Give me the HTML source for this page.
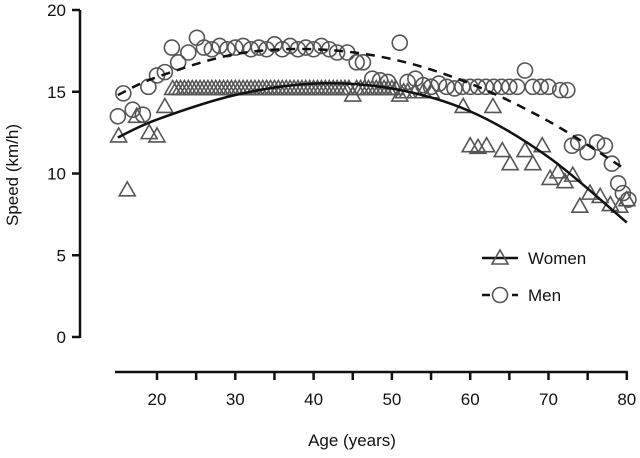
<!DOCTYPE html>
<html><head><meta charset="utf-8"><style>
html,body{margin:0;padding:0;background:#fff}
svg{display:block;font-family:"Liberation Sans",Arial,sans-serif}
</style></head><body>
<svg id="chart" width="640" height="458" viewBox="0 0 640 458">
<g id="axes"></g><g id="fits"></g><g id="marks"></g><g id="legend"></g>
</svg>
<script>
const yTicks=[0,5,10,15,20];
const xTicks=[20,30,40,50,60,70,80];
const womenAge=[15.1,16.2,17.4,19,20,21,45,51,59.1,62.9,60,61,62.1,64.1,65.1,67,68,69.2,70.2,71.2,72.1,73.1,74,75.3,76.6,77.9,79.1,80,
22,22.5,23,23.5,24,24.5,25,25.5,26,26.5,27,27.5,28,28.5,29,29.5,30,30.5,31,31.5,32,32.5,33,33.5,34,34.5,35,35.5,36,36.5,37,37.5,38,38.5,39,39.5,40,40.5,41,41.5,42,42.5,43,43.5,44,44.5,45.5,46,46.5,47,47.5,48,48.5,49,49.5,50,50.5,51.5,52,53,54,55,56];
const womenSpeed=[12.3,9.0,13.5,12.5,12.3,14.1,14.8,14.8,14.1,14.1,11.7,11.6,11.7,11.4,10.6,11.4,10.6,11.7,9.7,10.1,9.5,9.9,8.0,8.8,8.6,8.1,8.0,8.4,
15.2,15.2,15.2,15.2,15.2,15.2,15.2,15.2,15.2,15.2,15.2,15.2,15.2,15.2,15.2,15.2,15.2,15.2,15.2,15.2,15.2,15.2,15.2,15.2,15.2,15.2,15.2,15.2,15.2,15.2,15.2,15.2,15.2,15.2,15.2,15.2,15.2,15.2,15.2,15.2,15.2,15.2,15.2,15.2,15.2,15.2,15.2,15.2,15.2,15.2,15.2,15.2,15.2,15.2,15.2,15.2,15.2,15.0,15.0,15.0,15.0,15.0];
const menAge=[15,15.7,16.9,18.2,18.9,20,21,21.9,22.7,24,25.1,26,27,28,29,30,31,32,33,34,35,36,37,38,39,40,41,42,43,44.3,45.5,46.3,47.5,48.5,49.5,51,52,53,54,55,56,57,58,59,60,61,62,63,64,65,66,67,68,69,70,71.5,72.4,73,73.8,75,76.2,77.2,78.1,78.9,79.5,80.2];
const menSpeed=[13.5,14.9,13.9,13.6,15.3,16.0,16.2,17.7,16.8,17.4,18.3,17.7,17.6,17.8,17.6,17.7,17.8,17.6,17.7,17.6,17.9,17.6,17.8,17.6,17.7,17.6,17.8,17.6,17.4,17.4,16.8,16.8,15.8,15.7,15.6,18.0,15.6,15.8,15.4,15.3,15.5,15.3,15.2,15.3,15.3,15.3,15.3,15.3,15.3,15.3,15.3,16.3,15.3,15.3,15.3,15.1,15.1,11.7,11.9,11.3,11.9,11.7,10.6,9.4,8.8,8.4];
const fitAges=[15,20,30,40,50,60,70,80];
const womenFit=[12.2,13.3,14.8,15.5,15.2,13.8,11.0,7.0];
const menFit=[14.8,15.9,17.3,17.6,17.0,15.5,13.2,10.2];

const NS="http://www.w3.org/2000/svg";
const X=a=>157+(a-20)*7.83;
const Y=v=>337-v*16.35;
function el(tag,attrs,parent){const e=document.createElementNS(NS,tag);for(const k in attrs)e.setAttribute(k,attrs[k]);parent.appendChild(e);return e;}
const axes=document.getElementById('axes');
let a=el('line',{x1:80,y1:Y(20),x2:80,y2:Y(0)+1,stroke:'#111','stroke-width':2.5},axes);


yTicks.forEach(t=>{
 let l=el('line',{x1:72,y1:Y(t),x2:80,y2:Y(t),stroke:'#111','stroke-width':2.5},axes);
 
 
 let tx=el('text',{x:66,y:Y(t)+6,'text-anchor':'end','font-size':17,fill:'#111'},axes);tx.textContent=t;
 
 
});
a=el('line',{x1:115,y1:372,x2:X(80)+1,y2:372,stroke:'#111','stroke-width':2.5},axes);


for(let t=20;t<=80;t+=5){
 let l=el('line',{x1:X(t),y1:372,x2:X(t),y2:380,stroke:'#111','stroke-width':2.5},axes);
 
 
}
xTicks.forEach(t=>{
 let tx=el('text',{x:X(t),y:405,'text-anchor':'middle','font-size':17,fill:'#111'},axes);tx.textContent=t;
 
 
});
let tt=el('text',{x:352,y:446,'text-anchor':'middle','font-size':17,fill:'#111'},axes);tt.textContent='Age (years)';


tt=el('text',{x:0,y:0,'text-anchor':'middle','font-size':17,fill:'#111',transform:'translate(18,175) rotate(-90)'},axes);tt.textContent='Speed (km/h)';



function curve(vals){
 const p=fitAges.map((g,i)=>[X(g),Y(vals[i])]);
 let d='M'+p[0][0]+','+p[0][1];
 for(let i=0;i<p.length-1;i++){
  const p0=p[Math.max(0,i-1)],p1=p[i],p2=p[i+1],p3=p[Math.min(p.length-1,i+2)];
  d+=' C'+(p1[0]+(p2[0]-p0[0])/6)+','+(p1[1]+(p2[1]-p0[1])/6)+' '+(p2[0]-(p3[0]-p1[0])/6)+','+(p2[1]-(p3[1]-p1[1])/6)+' '+p2[0]+','+p2[1];
 }
 return d;
}
const marks=document.getElementById('marks');
function tri(cx,cy,parent){return el('polygon',{points:`${cx},${cy-8} ${cx-8},${cy+6} ${cx+8},${cy+6}`,fill:'none',stroke:'#555','stroke-width':1.6},parent);}
menAge.forEach((g,i)=>{
 let c=el('circle',{cx:X(g),cy:Y(menSpeed[i]),r:7.5,fill:'none',stroke:'#555','stroke-width':1.6},marks);
 
 
});
womenAge.forEach((g,i)=>{
 let t=tri(X(g),Y(womenSpeed[i]),marks);
 
 
});
let f=el('path',{d:curve(menFit),fill:'none',stroke:'#111','stroke-width':2.5,'stroke-dasharray':'9,7'},marks);


f=el('path',{d:curve(womenFit),fill:'none',stroke:'#111','stroke-width':2.5},marks);



const lg=document.getElementById('legend');
let g1=el('g',{},lg);


el('line',{x1:482,y1:258,x2:518,y2:258,stroke:'#111','stroke-width':2.5},g1);
tri(500,258,g1);
let lt=el('text',{x:528,y:264,'font-size':17,fill:'#111'},g1);lt.textContent='Women';
let g2=el('g',{},lg);


el('line',{x1:482,y1:295,x2:518,y2:295,stroke:'#111','stroke-width':2.5,'stroke-dasharray':'8,7'},g2);
el('circle',{cx:500,cy:295,r:7.5,fill:'#fff',stroke:'#555','stroke-width':1.6},g2);
lt=el('text',{x:528,y:301,'font-size':17,fill:'#111'},g2);lt.textContent='Men';
</script>
</body></html>
